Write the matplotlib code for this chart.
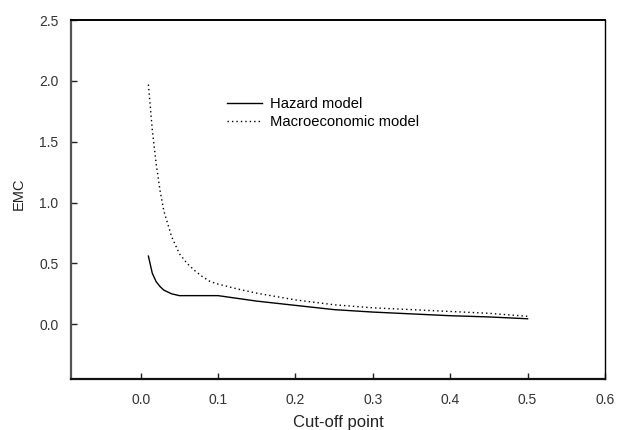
import numpy as np
import matplotlib.pyplot as plt
from matplotlib import rcParams
rcParams['font.family'] = 'sans-serif'
rcParams['font.sans-serif'] = ['Liberation Sans', 'DejaVu Sans']

# cut-off points and EMC values
hazardX = [0.01, 0.015, 0.02, 0.025, 0.03, 0.04, 0.05, 0.1, 0.15, 0.2, 0.25, 0.3, 0.35, 0.4, 0.45, 0.5]
hazardY = [0.56, 0.42, 0.35, 0.31, 0.28, 0.25, 0.235, 0.235, 0.19, 0.155, 0.12, 0.10, 0.085, 0.07, 0.06, 0.045]

macroX = [0.01, 0.015, 0.02, 0.025, 0.03, 0.04, 0.05, 0.06, 0.07, 0.08, 0.09, 0.1, 0.125, 0.15,
          0.2, 0.25, 0.3, 0.35, 0.4, 0.45, 0.5]
macroY = [1.97, 1.6, 1.32, 1.1, 0.93, 0.72, 0.58, 0.50, 0.44, 0.39, 0.35, 0.33, 0.29, 0.255,
          0.20, 0.16, 0.135, 0.12, 0.105, 0.09, 0.065]

xticks = [0.0, 0.1, 0.2, 0.3, 0.4, 0.5, 0.6]
yticks = [0.0, 0.5, 1.0, 1.5, 2.0, 2.5]

fig = plt.figure(figsize=(6.17, 4.30), dpi=100)
ax = fig.add_axes([71/617, 1 - 379/430, (605 - 71)/617, (379 - 20)/430])

ax.plot(hazardX, hazardY, color='black', lw=1.0, label='Hazard model')
ax.plot(macroX, macroY, color='black', lw=1.0, linestyle=(0, (1, 2.2)), label='Macroeconomic model')

ax.set_xlim(-0.09, 0.6)
ax.set_ylim(-0.45, 2.5)
ax.set_xticks(xticks)
ax.set_xticklabels(['%.1f' % v for v in xticks])
ax.set_yticks(yticks)
ax.set_yticklabels(['%.1f' % v for v in yticks])
ax.tick_params(direction='in', length=4, width=1, labelsize=10, colors='#222222', labelcolor='#333333')
ax.tick_params(axis='x', pad=10)
ax.tick_params(axis='y', pad=9)

ax.spines['left'].set_color('#555555')
ax.spines['left'].set_linewidth(1.6)
ax.spines['bottom'].set_color('#111111')
ax.spines['bottom'].set_linewidth(1.6)
ax.spines['top'].set_linewidth(1.4)
ax.spines['right'].set_linewidth(1.0)

ax.set_xlabel('Cut-off point', fontsize=12, color='#222222')
ax.xaxis.set_label_coords(0.5, -0.1)
ax.set_ylabel('EMC', fontsize=10.5, color='#222222')
ax.yaxis.set_label_coords(-0.085, 0.515)

ax.legend(loc='upper left', bbox_to_anchor=(0.278, 0.806), frameon=False, fontsize=10.6,
          handlelength=2.4, handletextpad=0.55, labelspacing=0.25, borderpad=0)

fig.savefig('out.png', dpi=100)
